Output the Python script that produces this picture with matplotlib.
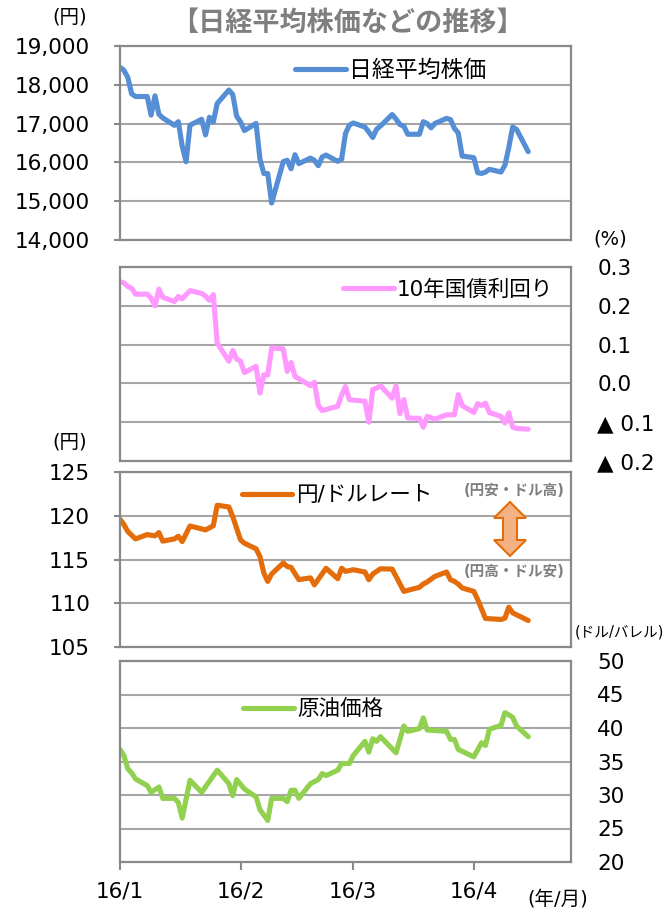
import pandas as pd
import matplotlib.pyplot as plt
from matplotlib.patches import Polygon
from matplotlib.lines import Line2D

plt.rcParams['font.family'] = ['DejaVu Sans', 'Noto Sans CJK JP']

# -------- Datos --------
nikkei_dates = ['01-04', '01-05', '01-06', '01-07', '01-08', '01-11', '01-12', '01-13', '01-14', '01-15',
                '01-18', '01-19', '01-20', '01-21', '01-22', '01-25', '01-26', '01-27', '01-28', '01-29',
                '02-01', '02-02', '02-03', '02-04', '02-05', '02-08', '02-09', '02-10', '02-11', '02-12',
                '02-15', '02-16', '02-17', '02-18', '02-19', '02-22', '02-23', '02-24', '02-25', '02-26',
                '02-29', '03-01', '03-02', '03-03', '03-04', '03-07', '03-08', '03-09', '03-10', '03-11',
                '03-14', '03-15', '03-16', '03-17', '03-18', '03-21', '03-22', '03-23', '03-24', '03-25',
                '03-28', '03-29', '03-30', '03-31', '04-01', '04-04', '04-05', '04-06', '04-07', '04-08',
                '04-11', '04-12', '04-13', '04-14', '04-15', '04-18']
nikkei = [18451, 18374, 18191, 17767, 17698, 17698, 17219, 17716, 17240, 17147,
          16956, 17049, 16417, 16017, 16959, 17111, 16709, 17164, 17042, 17518,
          17865, 17750, 17192, 17045, 16820, 17005, 16086, 15713, 15713, 14953,
          16022, 16055, 15837, 16197, 15968, 16111, 16053, 15916, 16140, 16189,
          16027, 16085, 16747, 16961, 17015, 16912, 16784, 16642, 16853, 16939,
          17233, 17117, 16975, 16937, 16725, 16725, 17049, 17001, 16892, 17003,
          17135, 17104, 16879, 16759, 16164, 16123, 15733, 15715, 15750, 15822,
          15752, 15929, 16382, 16912, 16849, 16276]

yield_dates = ['01-04', '01-05', '01-06', '01-07', '01-08', '01-11', '01-12', '01-13', '01-14', '01-15',
               '01-18', '01-19', '01-20', '01-22', '01-25', '01-26', '01-27', '01-28', '01-29',
               '02-01', '02-02', '02-03', '02-04', '02-05', '02-08', '02-09', '02-10', '02-11', '02-12',
               '02-15', '02-16', '02-17', '02-18', '02-22', '02-23', '02-24', '02-25', '02-29',
               '03-01', '03-02', '03-03', '03-04', '03-07', '03-08', '03-09', '03-10', '03-11',
               '03-14', '03-15', '03-16', '03-17', '03-18', '03-21', '03-22', '03-23', '03-25',
               '03-28', '03-30', '03-31', '04-01', '04-04', '04-05', '04-06', '04-07', '04-08',
               '04-11', '04-12', '04-13', '04-14', '04-15', '04-18']
yields = [0.262, 0.259, 0.250, 0.245, 0.230, 0.230, 0.220, 0.200, 0.243, 0.222,
          0.211, 0.224, 0.218, 0.239, 0.232, 0.225, 0.214, 0.229, 0.104,
          0.057, 0.085, 0.063, 0.057, 0.028, 0.044, -0.025, 0.022, 0.022, 0.091,
          0.089, 0.031, 0.054, 0.018, -0.006, 0.003, -0.057, -0.070, -0.059,
          -0.030, -0.008, -0.042, -0.043, -0.046, -0.100, -0.016, -0.012, -0.006,
          -0.038, -0.006, -0.078, -0.042, -0.089, -0.090, -0.113, -0.085, -0.092,
          -0.081, -0.081, -0.029, -0.057, -0.075, -0.052, -0.057, -0.051, -0.075,
          -0.085, -0.102, -0.076, -0.113, -0.116, -0.118]

yen_dates = ['01-04', '01-05', '01-06', '01-08', '01-11', '01-13', '01-14', '01-15', '01-18', '01-19',
             '01-20', '01-22', '01-25', '01-26', '01-28', '01-29', '02-01', '02-02', '02-04', '02-05',
             '02-08', '02-09', '02-10', '02-11', '02-12', '02-15', '02-16', '02-17', '02-19', '02-22',
             '02-23', '02-26', '02-29', '03-01', '03-02', '03-04', '03-07', '03-08', '03-09', '03-11',
             '03-14', '03-15', '03-17', '03-21', '03-22', '03-23', '03-25', '03-28', '03-29', '03-30',
             '03-31', '04-01', '04-04', '04-05', '04-07', '04-11', '04-12', '04-13', '04-14', '04-18']
yen = [119.6, 119.0, 118.2, 117.35, 117.85, 117.7, 118.07, 117.1, 117.35, 117.66,
       117.05, 118.83, 118.5, 118.38, 118.86, 121.2, 121.0, 119.9, 117.24, 116.86,
       116.22, 115.34, 113.45, 112.5, 113.34, 114.6, 114.2, 114.1, 112.7, 112.9,
       112.1, 114.0, 112.8, 114.0, 113.64, 113.83, 113.57, 112.69, 113.34, 113.94,
       113.9, 113.07, 111.36, 111.82, 112.2, 112.43, 113.07, 113.57, 112.69, 112.5,
       112.2, 111.75, 111.36, 110.42, 108.26, 108.15, 108.3, 109.55, 108.9, 108.03]

oil_dates = ['01-04', '01-05', '01-06', '01-07', '01-08', '01-11', '01-12', '01-14', '01-15', '01-18',
             '01-19', '01-20', '01-22', '01-25', '01-29', '02-01', '02-02', '02-03', '02-05', '02-08',
             '02-09', '02-11', '02-12', '02-15', '02-16', '02-17', '02-18', '02-19', '02-22', '02-24',
             '02-25', '02-26', '02-29', '03-01', '03-03', '03-04', '03-07', '03-08', '03-09', '03-10',
             '03-11', '03-15', '03-17', '03-18', '03-21', '03-22', '03-23', '03-28', '03-29', '03-30',
             '03-31', '04-04', '04-06', '04-07', '04-08', '04-11', '04-12', '04-14', '04-15', '04-18']
oil = [36.8, 35.9, 33.9, 33.3, 32.4, 31.4, 30.4, 31.2, 29.5, 29.5,
       28.9, 26.55, 32.2, 30.4, 33.7, 31.7, 29.9, 32.3, 30.9, 29.7,
       27.8, 26.2, 29.5, 29.5, 29.0, 30.7, 30.7, 29.5, 31.7, 32.3,
       33.2, 32.9, 33.7, 34.7, 34.7, 35.9, 38.0, 36.4, 38.4, 38.0,
       38.7, 36.3, 40.3, 39.5, 39.9, 41.5, 39.7, 39.5, 38.3, 38.3,
       36.8, 35.7, 37.8, 37.4, 39.8, 40.4, 42.3, 41.6, 40.3, 38.7]

xtick_dates = ['01-04', '02-04', '03-04', '04-04']
xtick_labels = ['16/1', '16/2', '16/3', '16/4']
yield_labels = ['0.3', '0.2', '0.1', '0.0', '▲ 0.1', '▲ 0.2']


def fechas(lista):
    return pd.to_datetime(['2016-' + d for d in lista])


# -------- Figura --------
W, H = 668, 916
fig = plt.figure(figsize=(W / 100, H / 100), dpi=100)


def caja(l, t, r, b):
    return [l / W, 1 - b / H, (r - l) / W, (b - t) / H]


def fpos(x, y):
    return x / W, 1 - y / H


GRIS = '#898989'
GRID = '#A6A6A6'
FS = 15.5

ax1 = fig.add_axes(caja(120, 46, 571, 240))
ax2 = fig.add_axes(caja(120, 267, 571, 461))
ax3 = fig.add_axes(caja(120, 472, 571, 647))
ax4 = fig.add_axes(caja(120, 661, 571, 862))

paneles = [
    (ax1, nikkei_dates, nikkei, '#558ED5', '日経平均株価', (0.388, 0.876), 16.5),
    (ax2, yield_dates, yields, '#FF99FF', '10年国債利回り', (0.495, 0.883), FS),
    (ax3, yen_dates, yen, '#E46C0A', '円/ドルレート', (0.270, 0.867), FS),
    (ax4, oil_dates, oil, '#92D050', '原油価格', (0.273, 0.761), FS),
]

for ax, d, v, color, nombre, pos, fs in paneles:
    ax.plot(fechas(d), v, color=color, lw=3.7, solid_capstyle='round', solid_joinstyle='round')
    ax.set_xlim(pd.Timestamp('2016-01-04'), pd.Timestamp('2016-04-29'))
    for s in ax.spines.values():
        s.set_color(GRIS)
        s.set_linewidth(1.6)
    ax.grid(axis='y', color=GRID, lw=1.5)
    ax.set_axisbelow(True)
    ax.set_xticks([])
    h = Line2D([], [], color=color, lw=3.7, solid_capstyle='round')
    ax.legend([h], [nombre], loc='center left', bbox_to_anchor=pos, frameon=False,
              handlelength=2.35 * FS / fs, handletextpad=0.15, borderpad=0, borderaxespad=0, fontsize=fs)

# ejes izquierdos
ax1.set_ylim(14000, 19000)
ax1.set_yticks(range(14000, 19001, 1000))
ax1.set_yticklabels([f'{t:,}' for t in range(14000, 19001, 1000)])
ax3.set_ylim(105, 125)
ax3.set_yticks(range(105, 126, 5))
for ax in (ax1, ax3):
    ax.tick_params(axis='y', direction='out', length=4.5, width=1.5, color=GRIS, pad=17, labelsize=FS)

# ejes derechos
ax2.set_ylim(-0.2, 0.3)
ax2.set_yticks([0.3, 0.2, 0.1, 0.0, -0.1, -0.2])
ax2.set_yticklabels(yield_labels)
ax4.set_ylim(20, 50)
ax4.set_yticks(range(20, 51, 5))
for ax in (ax2, ax4):
    ax.yaxis.tick_right()
    ax.tick_params(axis='y', length=0, pad=19, labelsize=FS)

# eje x abajo
ax4.set_xticks(fechas(xtick_dates))
ax4.set_xticklabels(xtick_labels)
ax4.tick_params(axis='x', direction='out', length=6, width=1.5, color=GRIS, pad=8, labelsize=FS)

# flecha doble (円安/円高)
pts = [(510, 502), (526, 518), (517, 518), (517, 540), (526, 540), (510, 556),
       (494, 540), (503, 540), (503, 518), (494, 518)]
fig.patches.append(Polygon([fpos(x, y) for x, y in pts], closed=True, transform=fig.transFigure,
                           facecolor='#F4B183', edgecolor='#E46C0A', lw=1.5))
fig.text(*fpos(514, 491), '(円安・ドル高)', ha='center', va='center', fontsize=10.5,
         fontweight='bold', color='#7F7F7F')
fig.text(*fpos(514, 572), '(円高・ドル安)', ha='center', va='center', fontsize=10.5,
         fontweight='bold', color='#7F7F7F')

# titulo y unidades
fig.text(*fpos(347, 24), '【日経平均株価などの推移】', ha='center', va='center', fontsize=19.5,
         fontweight='bold', color='#7F7F7F')
fig.text(*fpos(70, 17), '(円)', ha='center', va='center', fontsize=14)
fig.text(*fpos(610, 239), '(%)', ha='center', va='center', fontsize=14)
fig.text(*fpos(70, 442), '(円)', ha='center', va='center', fontsize=14)
fig.text(*fpos(619, 632), '(ドル/バレル)', ha='center', va='center', fontsize=10.5)
fig.text(*fpos(558, 899), '(年/月)', ha='center', va='center', fontsize=14)

fig.savefig('out.png', dpi=100)
